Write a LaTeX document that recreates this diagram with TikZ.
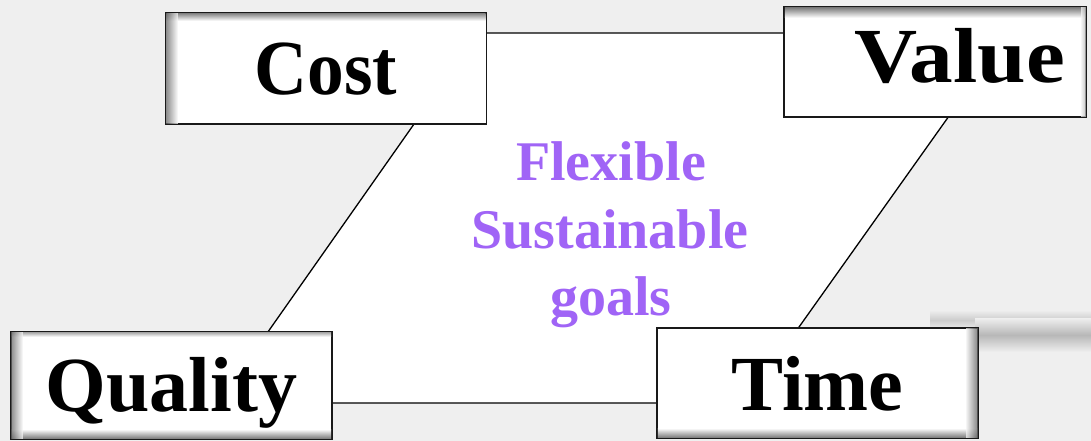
\documentclass[tikz,border=0pt]{standalone}
\usepackage{fontspec}
\setmainfont{Liberation Serif}
\usetikzlibrary{calc}
\definecolor{bgc}{RGB}{239,239,239}
\definecolor{purp}{RGB}{160,100,246}
% inner shadows: node, depth in pt, darkness
\newcommand{\shTop}[3]{\shade[top color=black!#3, bottom color=white]
  ($(#1.north west)+(1.6,1.6)$) rectangle ($(#1.north east)+(-1.6,1.6+#2)$);}
\newcommand{\shBot}[3]{\shade[bottom color=black!#3, top color=white]
  ($(#1.south west)+(1.6,-1.6)$) rectangle ($(#1.south east)+(-1.6,-1.6-#2)$);}
\newcommand{\shLeft}[3]{\foreach \i [evaluate=\i as \c using {int(#3-#3*\i/(#2+1))}] in {0,...,#2}
  \fill[black!\c, fill opacity=0.75] ($(#1.north west)+(0.8+\i,0.8)$) rectangle ($(#1.south west)+(1.8+\i,-0.8)$);}
\newcommand{\shRight}[3]{\foreach \i [evaluate=\i as \c using {int(#3-#3*\i/(#2+1))}] in {0,...,#2}
  \fill[black!\c, fill opacity=0.75] ($(#1.north east)+(-0.8-\i,0.8)$) rectangle ($(#1.south east)+(-1.8-\i,-0.8)$);}
\begin{document}
\begin{tikzpicture}[x=1pt,y=-1pt,
  box/.style={draw=black!90, line width=1.6pt, fill=white, inner sep=0pt, anchor=base,
    font=\fontsize{78}{80}\selectfont\bfseries},
  goal/.style={anchor=base, inner sep=0pt, text=purp, font=\fontsize{56}{60}\selectfont\bfseries},
  edge/.style={draw=black, line width=1.3pt}
]
\useasboundingbox (0,0) rectangle (1091,441);
\fill[bgc] (0,0) rectangle (1091,441);
\shade[top color=bgc, bottom color=bgc, middle color=black!20] (930,310) rectangle (1091,330);
\shade[top color=bgc, bottom color=bgc, middle color=black!28] (975,318) rectangle (1091,352);

\coordinate (p1) at (478,33);
\coordinate (p2) at (1008,33);
\coordinate (p3) at (745,403);
\coordinate (p4) at (218,403);
\draw[edge, fill=white] (p1) -- (p2) -- (p3) -- (p4) -- cycle;

\node[goal] (flex) at (611,180) {Flexible};
\node[goal] (sust) at (610,248) {Sustainable};
\node[goal] (goals) at (611,315) {goals};

\node[box, minimum width=321pt, text height=82pt, text depth=29pt] (cost) at (326,95) {\scalebox{0.94}[1]{Cost}};
\node[box, minimum width=302pt, text height=76pt, text depth=34pt] (value) at (935,83) {\hspace*{50pt}\scalebox{1.12}[1]{Value}};
\node[box, minimum width=321pt, text height=82pt, text depth=28pt] (time) at (817.5,410) {Time};
\node[box, minimum width=321pt, text height=79pt, text depth=28pt] (quality) at (171.5,411) {Quality};

\shTop{cost}{7}{45}
\shLeft{cost}{11}{60}
\shTop{value}{10}{50}
\shRight{value}{4}{25}
\shBot{time}{9}{50}
\shRight{time}{11}{60}
\shTop{quality}{4}{30}
\shBot{quality}{9}{50}
\shLeft{quality}{11}{60}
\end{tikzpicture}
\end{document}
